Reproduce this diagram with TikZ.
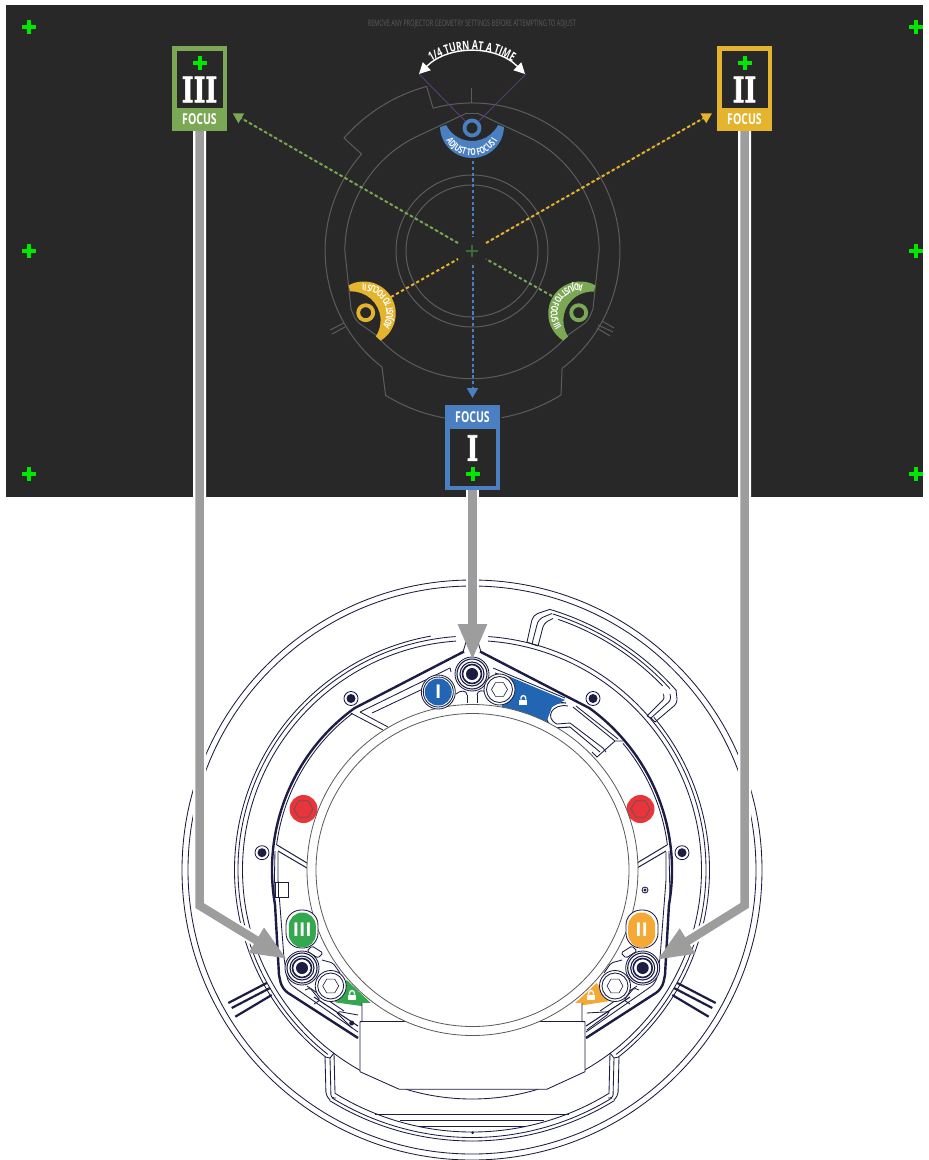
\documentclass[tikz,border=0pt]{standalone}
\usepackage{fontspec}
\usetikzlibrary{arrows.meta,positioning,shapes.geometric,decorations.text,calc}
\newfontfamily\condfont{Open Sans}[FakeStretch=0.7]
\newfontfamily\warnfont{Open Sans}[FakeStretch=0.62]
\newfontfamily\numfont{DejaVu Serif Bold}[FakeStretch=0.72,FakeBold=1.5]
\newfontfamily\badgefont{Open Sans}
\definecolor{panelCol}{RGB}{40,40,40}
\definecolor{plateCol}{RGB}{92,92,92}
\definecolor{blueCol}{RGB}{74,127,193}
\definecolor{yelCol}{RGB}{228,180,46}
\definecolor{grnCol}{RGB}{123,168,85}
\definecolor{plusCol}{RGB}{0,232,0}
\definecolor{turnCol}{RGB}{90,58,126}
\definecolor{flowCol}{RGB}{157,157,157}
\definecolor{cadCol}{RGB}{28,28,68}
\definecolor{lensCol}{RGB}{90,90,90}
\definecolor{lockBlue}{RGB}{34,102,179}
\definecolor{lockGrn}{RGB}{51,168,78}
\definecolor{lockOrg}{RGB}{245,168,51}
\definecolor{hexRed}{RGB}{232,52,58}
\tikzset{
  plate/.style={draw=plateCol,line width=1pt},
  cad/.style={draw=cadCol,line width=0.85pt},
  cadthick/.style={draw=cadCol,line width=2.4pt},
  lens/.style={draw=lensCol,line width=0.8pt,fill=white},
  tagbox/.style={rectangle,minimum width=55pt,minimum height=85pt,inner sep=0pt,outer sep=0pt},
  taginset/.style={rectangle,fill=panelCol,minimum width=46pt,minimum height=57pt,inner sep=0pt},
  tagnum/.style={text=white,inner sep=0pt,font=\numfont\fontsize{35}{35}\selectfont},
  taglab/.style={text=white,inner sep=0pt,font=\condfont\bfseries\fontsize{15}{15}\selectfont},
  ringnode/.style={circle,line width=3.8pt,minimum size=15pt,inner sep=0pt,outer sep=1.9pt},
  dashflow/.style={line width=2pt,dash pattern=on 3.2pt off 2.6pt},
  dashtip/.style={dashflow,-{Triangle[length=10pt,width=11pt]}},
  greyflow/.style={draw=flowCol,line width=8.5pt,-{Triangle[length=36pt,width=27pt]}},
  greycase/.style={draw=white,line width=13pt},
  badge/.style={rectangle,rounded corners=13.5pt,minimum width=27pt,minimum height=35pt,inner sep=0pt,
                text=white,font=\badgefont\bfseries\fontsize{19}{19}\selectfont},
  bolthex/.style={regular polygon,regular polygon sides=6,minimum size=19pt,inner sep=0pt},
  regplus/.pic={\draw[plusCol,line width=4pt] (-7,0)--(7,0) (0,-7)--(0,7);},
  lockicon/.pic={\fill[white] (-4,-0.5) rectangle (4,4.5);
                 \draw[white,line width=1.3pt] (-2.4,-0.5) -- (-2.4,-2) arc[start angle=180,end angle=360,radius=2.4] -- (2.4,-0.5);},
  screw/.pic={\draw[cad,fill=white] (0,0) circle[radius=17];
              \draw[cad,line width=1.1pt] (0,0) circle[radius=15] (0,0) circle[radius=12];
              \draw[cad,line width=1.6pt] (0,0) circle[radius=9.5];
              \fill[cadCol] (0,0) circle[radius=6];},
  whitebolt/.pic={\draw[cad,fill=white] (0,0) circle[radius=15.5];
                  \draw[cad] (0,0) circle[radius=13];
                  \node[bolthex,draw=cadCol,line width=0.6pt,minimum size=16pt] at (0,0) {};},
}
\newcommand{\adjband}[3]{%
  \begin{scope}[rotate around={#3:(472,251)}]
    \fill[#1] (472,126) ++(178:32) arc[start angle=178,end angle=2,radius=32]
      -- (498,125) arc[start angle=26.6,end angle=153.4,radius=29] -- cycle;
    \path[decorate,decoration={text along path,text align=center,text color=white,
      text={|\condfont\bfseries\fontsize{9.5}{10}\selectfont|#2}}]
      (472,126) ++(172:29.5) arc[start angle=172,end angle=8,radius=29.5];
  \end{scope}}
\begin{document}
\begin{tikzpicture}[x=1pt,y=-1pt]
    \useasboundingbox (0,0) rectangle (929,1160);
    \fill[white] (0,0) rectangle (929,1160);
    % --- lower drawing: parts that repeat left and right ---
    \foreach \sx in {1,-1} {
      \begin{scope}[shift={(472,870)},xscale=\sx]
        \draw[cad] (-86:234) arc[start angle=-86,end angle=52,radius=234];
        \draw[cad] (-40:237.5) arc[start angle=-40,end angle=52,radius=237.5];
        \draw[cad] (-86:229.5) arc[start angle=-86,end angle=61,radius=229.5];
        \draw[cad] (73.2:229) arc[start angle=73.2,end angle=90,radius=229];
        % tray
        \draw[cad,rounded corners=3] (147,187) -- (146,225) -- (142,230);
        \draw[cad,rounded corners=3] (142,188) -- (141,228) -- (136,228);
        \draw[cad,rounded corners=3] (138,183) -- (137,223);
        \draw[cad] (147,187) -- (142,188) -- (138,183);
        \draw[cad] (58.3:271) arc[start angle=58.3,end angle=90,radius=271];
        \draw[cad] (58.5:267.5) arc[start angle=58.5,end angle=90,radius=267.5];
        \draw[cad] (58.4:262) arc[start angle=58.4,end angle=90,radius=262];
        \draw[cad,line width=1.1pt] (0,244.3) -- (97,244.3);
        \draw[cad,line width=1.1pt] (0,250.7) -- (72,250.7);
        \draw[cad,line width=1.4pt] (0,256.7) -- (53,256.7);
        % frame
        \draw[cadthick] (8,-218.5) -- (-54:200) arc[start angle=-54,end angle=10,radius=200]
          -- (193,105) [rounded corners=7] -- (190,119) [sharp corners] -- (114,168);
        \draw[cad] (-40:197) arc[start angle=-40,end angle=-7.3,radius=197];
        \draw[cad] (194,-18) -- (194,10) -- (188,88) [rounded corners=6] -- (184,113) [sharp corners] -- (114,162);
        \draw[cad] (197,-19) -- (198,28);
        \draw[cad] (165,116) -- (128,141);
        \draw[cad,line width=1.1pt] (158,127) -- (114,156);
        \draw[cad] (6,-228) -- (9,-218);
        % spokes
        \draw[cad,line width=1pt] (195,-25) -- (165,-7) (194,-19) -- (165,-2);
        % pockets beside the screws
        \draw[cad,rounded corners=1.5] (160,76) -- (149,83) -- (154,88) -- (165,81) -- cycle;
        \draw[cad,rounded corners=2] (150,90) -- (139,93) -- (132,103);
        \draw[cad,rounded corners=1.5] (167,120) -- (162,118) -- (152,130) -- (158,134);
        % lugs
        \draw[cad,line width=2.2pt] (205.3,113) -- (243.7,133) (202,118) -- (240.3,138) (200.3,125) -- (236.7,146.7);
        \draw[cad,fill=white] (121,-171.5) circle[radius=7];
        \fill[cadCol] (121,-171.5) circle[radius=4.5];
        \draw[cad,fill=white] (210,-17.3) circle[radius=7];
        \fill[cadCol] (210,-17.3) circle[radius=4.5];
        \node[circle,fill=hexRed,minimum size=28pt,inner sep=0pt] (hex\sx) at (168.5,-61) {};
        \node[bolthex,draw=lensCol,line width=0.7pt] (hexin\sx) at (168.5,-61) {};
      \end{scope}
    }
    \draw[cad] (472,870) circle[radius=290] (472,870) circle[radius=284];
    % --- lower drawing: parts on one side only ---
    \begin{scope}[shift={(472,870)}]
      \draw[cad] (-73.3:272) arc[start angle=-73.3,end angle=-41.3,radius=272];
      \draw[cad] (-72.5:268.5) arc[start angle=-72.5,end angle=-42.5,radius=268.5];
      \draw[cad] (-71:265) arc[start angle=-71,end angle=-44,radius=265];
      \draw[cad] (232.6:197) arc[start angle=232.6,end angle=220,radius=197];
      \draw[cad] (220:237.5) arc[start angle=220,end angle=260,radius=237.5];
    \end{scope}
    \draw[cad,rounded corners=5] (527,642) -- (533,615) -- (550,609.3);
    \draw[cad,rounded corners=5] (532,644) -- (538.5,619) -- (552,613.5);
    \draw[cad,rounded corners=4] (538,646) -- (544,623) -- (553,618.5);
    \draw[cad] (527,642) -- (532,644) -- (538,646);
    \draw[cad,rounded corners=4] (676,690) -- (677.5,703) -- (655,722);
    \draw[cad,rounded corners=3] (670,694) -- (671,700) -- (651,718);
    \draw[cad,rounded corners=3] (664,696) -- (665,698) -- (647,716);
    \draw[cad] (655,722) -- (651,718) -- (647,716);
    % slot beside the blue lock
    \draw[cad,line width=1.1pt] (566,703) .. controls (548,700) and (538,720) .. (555,728) -- (570,727);
    \draw[cad] (568,706) .. controls (552,703) and (544,718) .. (557,724) -- (570,723);
    \draw[cad] (573,707) -- (615,741) (576,706) -- (618,739) (570,727) -- (600,752) (570,723) -- (603,748);
    \draw[cad] (623,741) -- (615,741) -- (597,757) -- (592,752);
    \draw[cad] (603,748) -- (606,752);
    % top pockets
    \draw[cad] (360,712) -- (450,668) -- (451,672) (372,713) -- (425,688) (350.7,713) -- (383,730) (360,712) -- (388,727);
    \draw[cad] (493,668) -- (565,698) (495,673) -- (510,678);
    \draw[cad] (467,695) -- (467,703) (477,695) -- (477,703);
    \draw[cad] (456,694) .. controls (460,690) and (467,690) .. (467,695);
    \draw[cad] (489,694) .. controls (484,689) and (477,690) .. (477,695);
    % left tab, dot, brackets
    \draw[cad,fill=white] (275,882) rectangle (288,897);
    \draw[cad] (278,882) -- (278,897);
    \draw[cad,fill=white] (645,890) circle[radius=3];
    \fill[cadCol] (645,890) circle[radius=1.6];
    \draw[cad] (337,1013) -- (340,1011.7) -- (358,1015) (337,1013) -- (352,1028);
    \fill[cadCol] (351.7,1023) circle[radius=2.5];
    \draw[cad] (586.7,1013) -- (609,1011.7) -- (607,1015) -- (586.7,1030);
    \fill[cadCol] (472.7,1132.7) circle[radius=1.5];
    % --- lock wedges ---
    \fill[lockBlue] (508,676) -- (565,700) -- (552,707) -- (546,723) -- (500,715) -- cycle;
    \fill[lockGrn] (346.7,980) -- (376,1008) -- (335,1002.3) -- cycle;
    \fill[lockOrg] (596.7,983) -- (571,1007) -- (610,1001) -- cycle;
    % --- box and lens ---
    \draw[cad,fill=white] (362,1003) -- (362,1021.7) -- (360,1021.7) -- (360,1071.7) -- (399.3,1089.3)
      -- (546.7,1089.3) -- (585,1071.7) -- (585,1021.7) -- (582,1021.7) -- (582,1003);
    \draw[cad] (360,1021.7) -- (585,1021.7);
    \draw[lens] (472.5,870) circle[radius=165.5];
    \draw[lens] (472.5,870) circle[radius=156.5];
    % --- screws, bolts and badges ---
    \pic at (472,674) {screw};
    \pic at (642.7,968) {screw};
    \pic at (302,968) {screw};
    \pic at (499.5,689.5) {whitebolt};
    \pic at (330.7,986) {whitebolt};
    \pic at (615,986) {whitebolt};
    \draw[cad,fill=white] (438.3,692) circle[radius=17];
    \draw[cad] (438.3,692) circle[radius=15];
    \node[circle,fill=lockBlue,minimum size=27pt,inner sep=0pt,text=white,
          font=\badgefont\bfseries\fontsize{19}{19}\selectfont] (badgeI) at (438.3,692) {I};
    \draw[cad,fill=white,rounded corners=15] (286,910) rectangle (318,948);
    \draw[cad,fill=white,rounded corners=15] (626,910) rectangle (658,948);
    \node[badge,fill=lockGrn] (badgeIII) at (302.3,930) {III};
    \node[badge,fill=lockOrg] (badgeII) at (641.7,930) {II};
    \pic at (523.3,700) {lockicon};
    \pic at (352,995) {lockicon};
    \pic at (591,995) {lockicon};
    % --- dark panel ---
    \fill[panelCol] (6,5) rectangle (923,497);
    \foreach \cx/\cy in {29/27,916/27,29/251,916/251,29/474,916/474}
      \pic at (\cx,\cy) {regplus};
    \node[text=plateCol,inner sep=0pt,font=\warnfont\fontsize{8.9}{9}\selectfont] (warn) at (472,24)
      {REMOVE ANY PROJECTOR GEOMETRY SETTINGS BEFORE ATTEMPTING TO ADJUST};
    % --- lens plate outline ---
    \draw[plate] (472,251) circle[radius=66] (472,251) circle[radius=76];
    \draw[plate] (472,251) ++(-105.3:148) arc[start angle=-105.3,end angle=52.5,radius=148]
      -- (561,395) arc[start angle=58.3,end angle=80,radius=169];
    \draw[plate] (445,418) arc[start angle=100,end angle=121.7,radius=169] -- (382,367)
      arc[start angle=127.8,end angle=221.2,radius=147] -- (344,138)
      arc[start angle=221.4,end angle=254.7,radius=170] -- (433,108);
    \foreach \sx in {1,-1} {
      \begin{scope}[shift={(472,251)},xscale=\sx]
        \draw[plate] (5,-138) -- (52,-116) arc[start angle=-65.9,end angle=0,radius=127]
          -- (121,58) [rounded corners=5] -- (116,70) [sharp corners] -- (96,84)
          arc[start angle=41,end angle=90,radius=127];
      \end{scope}
    }
    \draw[plate] (477,113) -- (467,113);
    \draw[plate] (471,88) -- (471,103);
    \draw[plate] (330,330) -- (344,323) (332,334) -- (345,327);
    \draw[plate] (602,321) -- (614,328) (598,325) -- (613,332) (597,328) -- (610,336);
    % --- quarter turn mark ---
    \coordinate (arcL) at (419,74);
    \coordinate (arcR) at (526,74);
    \node[ringnode,draw=blueCol] (ringI) at (472,128) {};
    \draw[turnCol,line width=0.9pt] (arcL) -- (ringI);
    \draw[turnCol,line width=0.9pt] (arcR) -- (ringI);
    \draw[white,line width=1.4pt,{Triangle[length=11pt,width=11pt]}-{Triangle[length=11pt,width=11pt]}]
      (arcL) arc[start angle=-135,end angle=-45,radius=75];
    \path[decorate,decoration={text along path,text align=center,text color=white,
      text={|\condfont\bfseries\fontsize{12.5}{13}\selectfont|1/4 TURN AT A TIME}}]
      (472,127) ++(-135:77) arc[start angle=-135,end angle=-45,radius=77];
    % --- adjusters ---
    \adjband{blueCol}{ADJUST TO FOCUS I}{0}
    \adjband{yelCol}{ADJUST TO FOCUS II}{120}
    \adjband{grnCol}{ADJUST TO FOCUS III}{-120}
    \node[ringnode,draw=yelCol] (ringII) at (365.7,312.7) {};
    \node[ringnode,draw=grnCol] (ringIII) at (578.7,312.7) {};
    % --- target tags ---
    \node[tagbox,fill=blueCol] (tagI) at (472.5,447.5) {};
    \node[taginset] (insetI) at (472.5,457.5) {};
    \node[taglab] (labI) at (472.5,417.5) {FOCUS};
    \node[tagnum] (numI) at (472.5,448) {I};
    \pic at (472.5,474) {regplus};
    \node[tagbox,fill=yelCol] (tagII) at (744.5,88.5) {};
    \node[taginset] (insetII) at (744.5,79.5) {};
    \node[taglab] (labII) at (744.5,119) {FOCUS};
    \node[tagnum] (numII) at (744.5,89.5) {II};
    \pic at (744.5,63) {regplus};
    \node[tagbox,fill=grnCol] (tagIII) at (199.5,88.5) {};
    \node[taginset] (insetIII) at (199.5,79.5) {};
    \node[taglab] (labIII) at (199.5,119) {FOCUS};
    \node[tagnum] (numIII) at (199.5,89.5) {III};
    \pic at (199.5,63) {regplus};
    % --- dashed sight lines, broken at the centre mark ---
    \coordinate (tipI) at (472.5,398);
    \coordinate (tipII) at (712,113.3);
    \coordinate (tipIII) at (232.7,113.3);
    \draw[dashflow,draw=blueCol] (472.5,161) -- (472.5,237);
    \draw[dashtip,draw=blueCol,fill=blueCol] (472.5,265) -- (tipI);
    \draw[dashflow,draw=yelCol] (391,297) -- (458,259);
    \draw[dashtip,draw=yelCol,fill=yelCol] (486,243) -- (tipII);
    \draw[dashflow,draw=grnCol] (552,296) -- (486,259);
    \draw[dashtip,draw=grnCol,fill=grnCol] (458,243) -- (tipIII);
    \draw[draw={rgb,255:red,61;green,106;blue,58},line width=1.4pt] (466,251) -- (478,251) (472,245) -- (472,257);
    % --- grey leaders down to the screws ---
    \coordinate (headI) at (472.5,624);
    \coordinate (endI) at (472.5,660);
    \coordinate (bendII) at (744.5,905.5);
    \coordinate (headII) at (686.5,941.5);
    \coordinate (endII) at (657,960);
    \coordinate (bendIII) at (199.5,905.5);
    \coordinate (headIII) at (257,940.5);
    \coordinate (endIII) at (287,959);
    \draw[greycase] (tagI.south) -- (headI);
    \draw[greycase] (tagII.south) -- (bendII) -- (headII);
    \draw[greycase] (tagIII.south) -- (bendIII) -- (headIII);
    \draw[greyflow] (tagI.south) -- (endI);
    \draw[greyflow] (tagII.south) -- (bendII) -- (endII);
    \draw[greyflow] (tagIII.south) -- (bendIII) -- (endIII);
\end{tikzpicture}
\end{document}
